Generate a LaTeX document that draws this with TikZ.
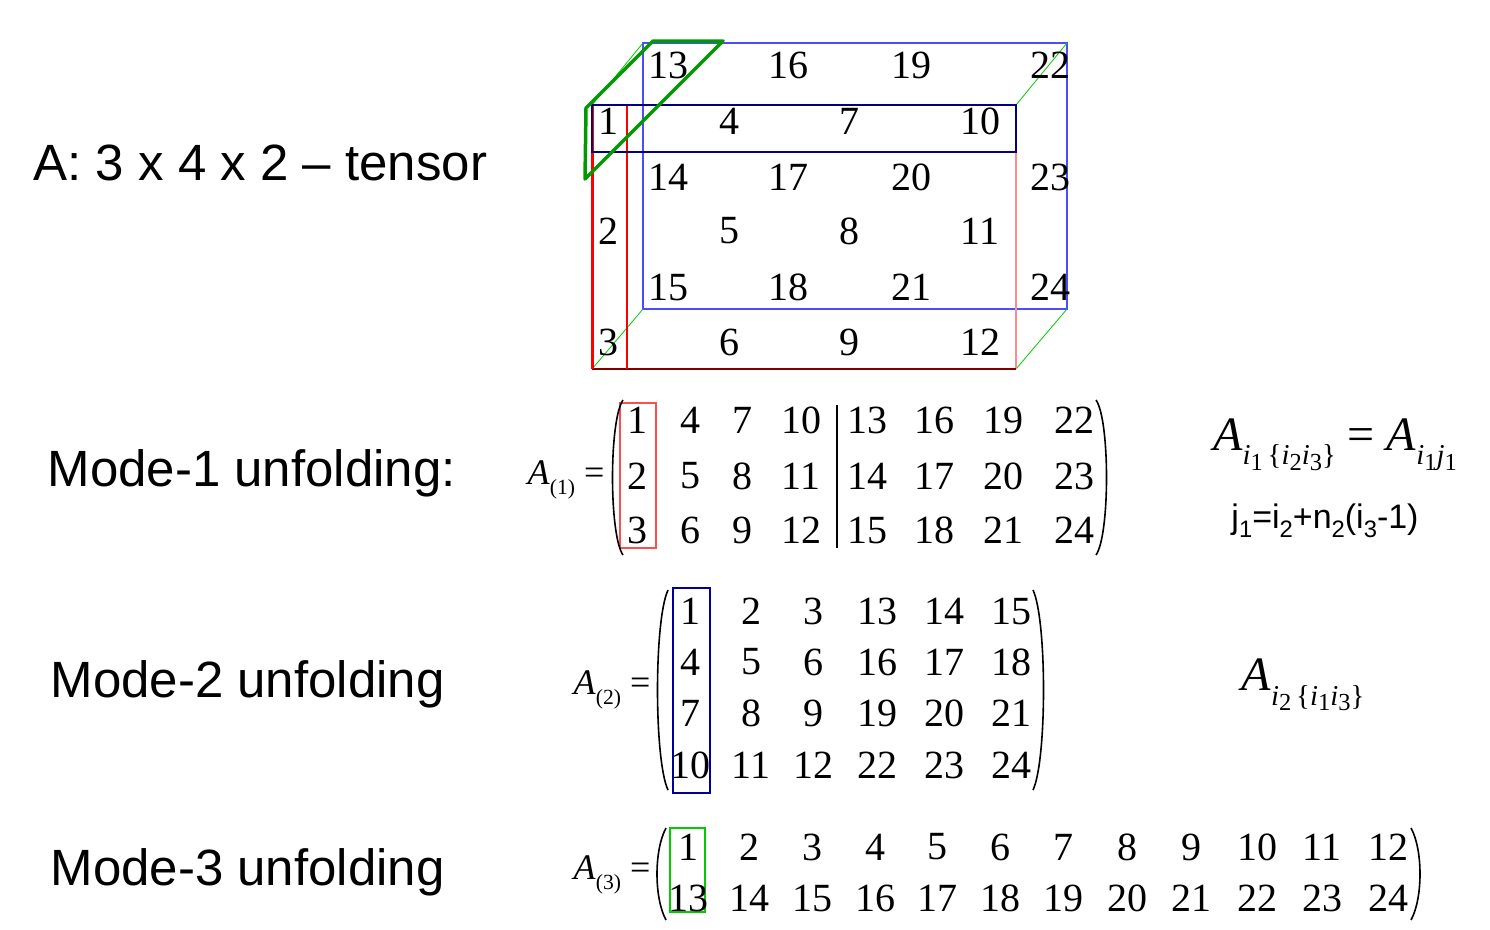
\documentclass[tikz,border=0pt]{standalone}
\usepackage{fontspec}
\setmainfont{Liberation Serif}
\setsansfont{Liberation Sans}
\newcommand\mysub[1]{\raisebox{-0.3em}{\fontsize{0.6em}{0.7em}\selectfont #1}}
\newcommand\mysubb[1]{\raisebox{-0.2em}{\fontsize{0.85em}{0.9em}\selectfont #1}}
\newcommand\myssub[1]{\raisebox{-0.25em}{\fontsize{0.7em}{0.8em}\selectfont #1}}
\begin{document}
\begin{tikzpicture}[x=1pt,y=-1pt,
  lab/.style={anchor=west,font=\sffamily\fontsize{51}{60}\selectfont},
  num/.style={font=\fontsize{40}{44}\selectfont},
  mat/.style={font=\fontsize{40}{44}\selectfont},
  par/.style={line width=1.6pt}]
\useasboundingbox (0,0) rectangle (1490,929);
% labels
\node[lab] (t0) at (30,163) {A: 3 x 4 x 2 -- tensor};
\node[lab] (t1) at (44,473) {Mode-1 unfolding:};
\node[lab] (t2) at (47,684) {Mode-2 unfolding};
\node[lab] (t3) at (47,872) {Mode-3 unfolding};
% cube
\draw[blue!70,line width=1.2pt] (643,43) rectangle (1067,309);
\draw[green!80!black,line width=0.8pt] (592,369)--(643,309) (1016,369)--(1067,309) (1016,105)--(1067,43) (592,105)--(643,43);
\draw[red!45,line width=1.2pt] (1016,152)--(1016,369);
\draw[red!50!black,line width=1.2pt] (592,369)--(1016,369);
\draw[red,line width=3pt] (592,105)--(592,369);
\draw[red,line width=1.5pt] (627,105)--(627,369);
\draw[blue!50!black,line width=2pt] (592,105) rectangle (1016,152);
\draw[green!60!black,line width=3.5pt,line join=round] (586,108)--(653,41)--(723,41)--(585,179)--cycle;
\foreach \v/\x/\y in {1/608/121,4/729/121,7/849/121,10/980/121,2/608/231,5/729/231,8/849/231,11/980/231,3/608/342,6/729/342,9/849/342,12/980/342,
13/668/65,16/788/65,19/911/65,22/1050/65,14/668/177,17/788/177,20/911/177,23/1050/177,15/668/287,18/788/287,21/911/287,24/1050/287}
  \node[num] (c\v) at (\x,\y) {\v};
% mode 1
\node[font=\fontsize{36}{40}\selectfont] (a1) at (566,480) {\textit{A}\mysub{(1)} =};
\draw[red!70,line width=1.2pt] (620,403) rectangle (656,548);
\draw[line width=1.2pt] (837,405)--(837,548);
\draw[par] (623,400) .. controls (609,420) and (609,535) .. (623,555);
\draw[par] (1096,400) .. controls (1110,420) and (1110,535) .. (1096,555);
\foreach \r/\y in {0/420,1/476,2/530}{
 \foreach \c/\x in {0/637,1/690,2/742,3/801,4/867,5/934,6/1003,7/1074}{
  \pgfmathtruncatemacro\v{1+\r+3*\c}
  \node[mat] (m1-\r-\c) at (\x,\y) {\v};}}
% mode 2
\node[font=\fontsize{36}{40}\selectfont] (a2) at (612,690) {\textit{A}\mysub{(2)} =};
\draw[blue!60!black,line width=1.2pt] (673,588) rectangle (710,793);
\draw[par] (668,590) .. controls (654,620) and (654,760) .. (668,790);
\draw[par] (1033,590) .. controls (1047,620) and (1047,760) .. (1033,790);
\foreach \r/\y in {0/611,1/662,2/713,3/765}{
 \foreach \c/\x in {0/690,1/751,2/813,3/877,4/944,5/1011}{
  \pgfmathtruncatemacro\v{1+\c+3*\r+(\c>2 ? 9 : 0)}
  \node[mat] (m2-\r-\c) at (\x,\y) {\v};}}
% mode 3
\node[font=\fontsize{36}{40}\selectfont] (a3) at (612,875) {\textit{A}\mysub{(3)} =};
\draw[green!80!black,line width=1.2pt] (670,828) rectangle (705,912);
\draw[par] (666,828) .. controls (654,850) and (654,898) .. (666,920);
\draw[par] (1411,828) .. controls (1423,850) and (1423,898) .. (1411,920);
\foreach \r/\y in {0/847,1/898}{
 \foreach \c/\x in {0/688,1/749,2/812,3/875,4/937,5/1000,6/1063,7/1127,8/1191,9/1257,10/1322,11/1388}{
  \pgfmathtruncatemacro\v{1+\c+12*\r}
  \node[mat] (m3-\r-\c) at (\x,\y) {\v};}}
% formulas
\node[font=\fontsize{48}{50}\selectfont] (f1) at (1335,445) {\textit{A}\mysub{\textit{i}\mysubb{1}\,\{\textit{i}\mysubb{2}\textit{i}\mysubb{3}\}} = \textit{A}\mysub{\textit{i}\mysubb{1}\textit{j}\mysubb{1}}};
\node[font=\sffamily\fontsize{34}{40}\selectfont] (f2) at (1325,521) {j\myssub{1}=i\myssub{2}+n\myssub{2}(i\myssub{3}-1)};
\node[font=\fontsize{48}{50}\selectfont] (f3) at (1303,685) {\textit{A}\mysub{\textit{i}\mysubb{2}\,\{\textit{i}\mysubb{1}\textit{i}\mysubb{3}\}}};
\end{tikzpicture}
\end{document}
